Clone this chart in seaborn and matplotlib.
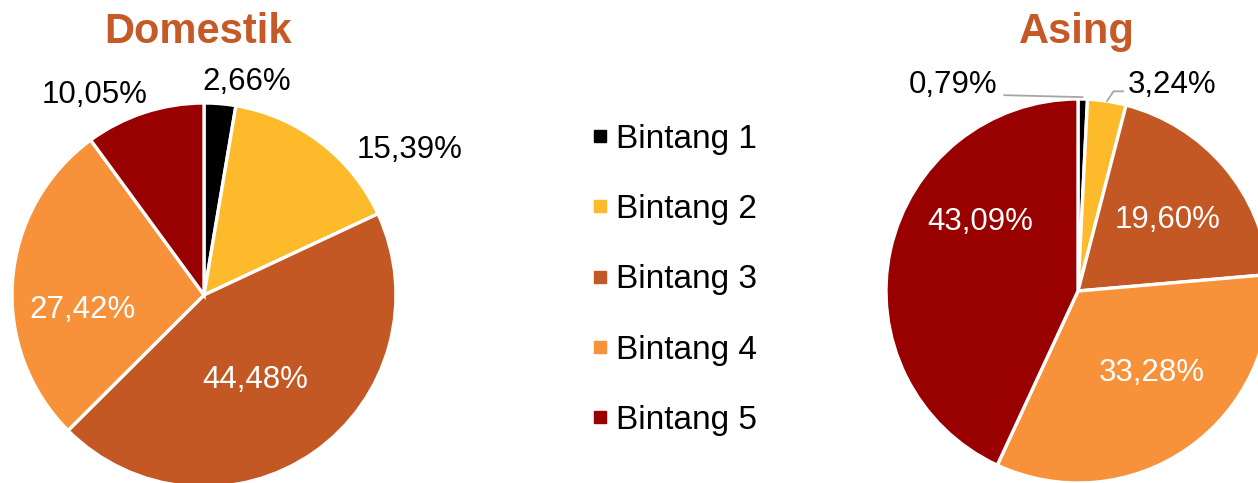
import numpy as np
import matplotlib
matplotlib.use("Agg")
import matplotlib.pyplot as plt
from matplotlib.lines import Line2D
import seaborn as sns

# Hotel star class shares (%)
categories = ["Bintang 1", "Bintang 2", "Bintang 3", "Bintang 4", "Bintang 5"]
domestik = [2.66, 15.39, 44.48, 27.42, 10.05]
asing = [0.79, 3.24, 19.60, 33.28, 43.09]
titles = ["Domestik", "Asing"]

sns.set_theme(style="white")
plt.rcParams["font.family"] = ["Liberation Sans", "DejaVu Sans"]

palette = sns.color_palette(["#000000", "#FDBB2B", "#C45824", "#F7923A", "#990000"])
title_color = "#C55A28"

# Label anchors (in pie-radius units) and text colours for each wedge
dom_label_pos = [(0.224, 1.109), (1.073, 0.755), (0.266, -0.443), (-0.635, -0.078), (-0.568, 1.042)]
dom_label_col = ["black", "black", "white", "white", "black"]
asi_label_pos = [(-0.651, 1.073), (0.490, 1.073), (0.469, 0.370), (0.385, -0.427), (-0.510, 0.359)]
asi_label_col = ["black", "black", "white", "white", "white"]

W, H = 1258, 483
fig = plt.figure(figsize=(W / 100, H / 100), dpi=100)
R = 192


def make_ax(cx, cy):
    return fig.add_axes([(cx - R) / W, (H - cy - R) / H, 2 * R / W, 2 * R / H])


def fmt(v):
    return f"{v:.2f}".replace(".", ",") + "%"


def draw_pie(ax, values, label_pos, label_col):
    ax.pie(values, colors=palette, startangle=90, counterclock=False, radius=1,
           wedgeprops=dict(edgecolor="white", linewidth=2.4))
    ax.set_xlim(-1, 1)
    ax.set_ylim(-1, 1)
    ax.set_aspect("equal")
    ax.axis("off")
    for v, (x, y), c in zip(values, label_pos, label_col):
        ax.text(x, y, fmt(v), ha="center", va="center", fontsize=22.5, color=c, clip_on=False)


ax1 = make_ax(204, 295)
draw_pie(ax1, domestik, dom_label_pos, dom_label_col)

ax2 = make_ax(1078, 291)
draw_pie(ax2, asing, asi_label_pos, asi_label_col)

# Leader lines for the two thin wedges of the second pie
cum = np.cumsum([0] + asing) / 100.0
for i, (tx, ty), in [(0, (-0.385, 1.02)), (1, (0.235, 1.015))]:
    mid = np.deg2rad(90 - 360 * (cum[i] + cum[i + 1]) / 2)
    ex, ey = np.cos(mid) * 1.0, np.sin(mid) * 1.0
    if i == 0:
        ax2.plot([tx, ex], [ty, ey + 0.01], color="#A6A6A6", lw=1.3, clip_on=False)
    else:
        ax2.plot([ex, 0.185, tx], [ey, 1.04, 1.04], color="#A6A6A6", lw=1.3, clip_on=False)

fig.text(198 / W, 1 - 32 / H, titles[0], ha="center", va="center",
         fontsize=30, fontweight="bold", color=title_color)
fig.text(1077 / W, 1 - 32 / H, titles[1], ha="center", va="center",
         fontsize=30, fontweight="bold", color=title_color)

handles = [Line2D([0], [0], marker="s", linestyle="none", markersize=9,
                  markerfacecolor=c, markeredgecolor=c) for c in palette]
fig.legend(handles, categories, loc="center", bbox_to_anchor=(672 / W, 1 - 280 / H),
           frameon=False, fontsize=24, labelspacing=1.18, handletextpad=0.1,
           handlelength=0.8, labelcolor="black")

fig.savefig("out.png", dpi=100)
